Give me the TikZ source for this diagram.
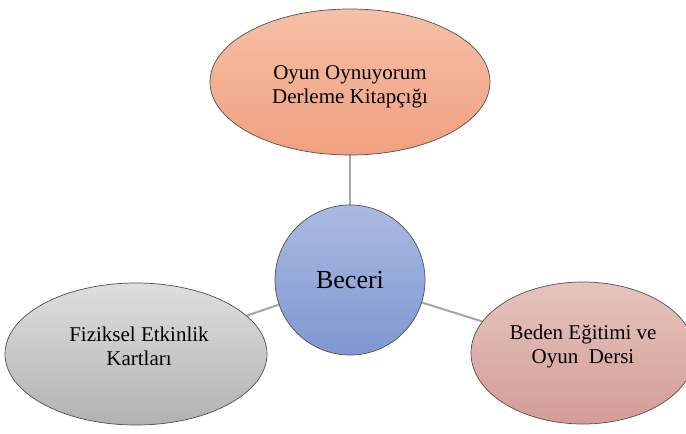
\documentclass[tikz,border=0pt]{standalone}
\usepackage{fontspec}
\setmainfont{Liberation Serif}
\usetikzlibrary{shapes.geometric,backgrounds}

\definecolor{peachTop}{RGB}{246,192,167}
\definecolor{peachBot}{RGB}{241,160,128}
\definecolor{blueTop}{RGB}{170,186,225}
\definecolor{blueBot}{RGB}{127,152,211}
\definecolor{greyTop}{RGB}{222,222,222}
\definecolor{greyBot}{RGB}{178,178,178}
\definecolor{roseTop}{RGB}{230,196,190}
\definecolor{roseBot}{RGB}{212,156,150}
\definecolor{rimColor}{RGB}{80,80,80}
\definecolor{linkColor}{RGB}{166,166,166}

\tikzset{
  bubble/.style={ellipse, draw=rimColor, line width=0.7pt, inner sep=0pt},
  hub/.style={circle, draw=rimColor, line width=0.7pt, inner sep=0pt,
    minimum size=150pt, top color=blueTop, bottom color=blueBot},
  caption/.style={align=center, inner sep=0pt,
    font=\fontsize{21}{24}\selectfont},
  link/.style={draw=linkColor, line width=2pt}
}

\begin{document}
\begin{tikzpicture}[x=1pt, y=-1pt]
  \useasboundingbox (0,0) rectangle (686,434);
  \clip (0,0) rectangle (686,434);

  % outer topics
  \node[bubble, minimum width=280pt, minimum height=146pt,
        top color=peachTop, bottom color=peachBot] (top) at (350,82) {};
  \node[bubble, minimum width=262pt, minimum height=142pt,
        top color=greyTop, bottom color=greyBot] (left) at (136,354) {};
  \node[bubble, minimum width=224pt, minimum height=142pt,
        top color=roseTop, bottom color=roseBot] (right) at (583,353) {};

  % central skill
  \node[hub, font=\fontsize{26}{30}\selectfont] (hub) at (350,280) {Beceri};

  % topic labels
  \node[caption] (top-text) at (350,87) {Oyun Oynuyorum\\Derleme Kitapçığı};
  \node[caption] (left-text) at (139,346) {Fiziksel Etkinlik\\Kartları};
  \node[caption] (right-text) at (583,346) {Beden Eğitimi ve\\Oyun\ \ Dersi};

  % connectors behind the shapes
  \begin{scope}[on background layer]
    \draw[link] (hub) -- (top);
    \draw[link] (hub) -- (left);
    \draw[link] (hub) -- (right);
  \end{scope}
\end{tikzpicture}
\end{document}
